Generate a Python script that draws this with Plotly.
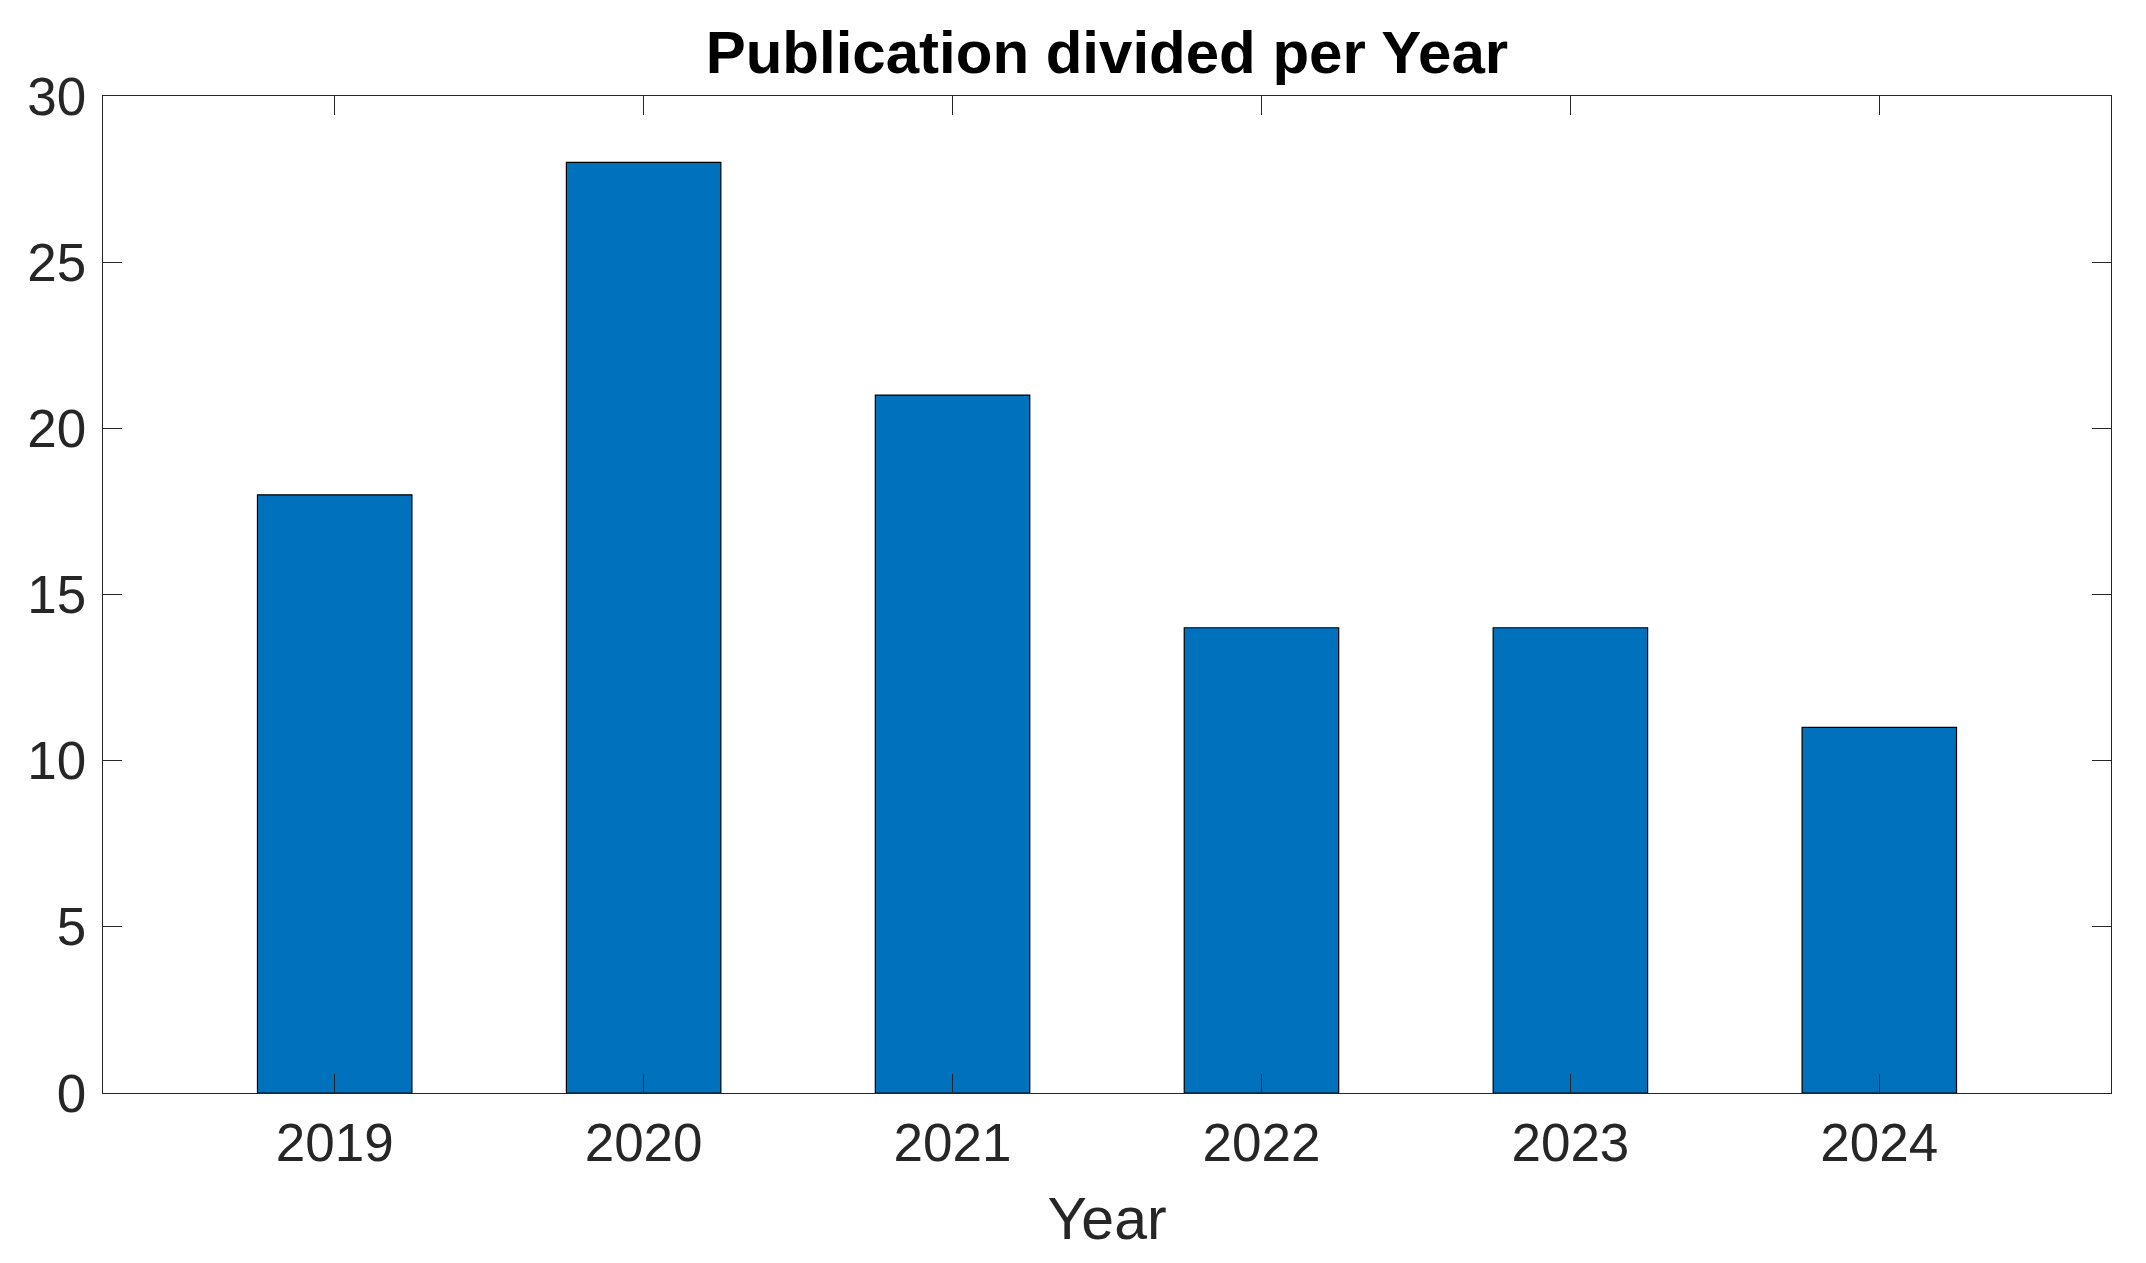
import plotly.graph_objects as go

years = ["2019", "2020", "2021", "2022", "2023", "2024"]
publications = [18, 28, 21, 14, 14, 11]
y_ticks = [0, 5, 10, 15, 20, 25, 30]

axis_color = "#262626"
font_family = "Liberation Sans, Arial, Helvetica, sans-serif"

fig = go.Figure(
    go.Bar(
        x=years,
        y=publications,
        width=0.5,
        marker=dict(color="#0072BD", line=dict(color="#000000", width=1.2)),
    )
)

fig.update_layout(
    width=2138,
    height=1255,
    margin=dict(l=95, r=35, t=88, b=170),
    paper_bgcolor="white",
    plot_bgcolor="white",
    showlegend=False,
    font=dict(family=font_family, color=axis_color),
    title=dict(
        text="<b>Publication divided per Year</b>",
        x=0.514,
        xanchor="center",
        y=0.965,
        yanchor="middle",
        font=dict(family=font_family, size=60, color="#000000"),
    ),
)

fig.update_xaxes(
    type="category",
    range=[-0.75, 5.75],
    showline=True,
    linecolor=axis_color,
    linewidth=1.3,
    mirror="ticks",
    ticks="inside",
    ticklen=19,
    tickwidth=1.3,
    tickcolor=axis_color,
    showgrid=False,
    zeroline=False,
    tickfont=dict(size=53, color=axis_color),
    ticklabelstandoff=3,
    title=dict(text="Year", font=dict(size=59, color=axis_color), standoff=26),
)

fig.update_yaxes(
    range=[0, 30],
    tickvals=y_ticks,
    showline=True,
    linecolor=axis_color,
    linewidth=1.3,
    mirror="ticks",
    ticks="inside",
    ticklen=19,
    tickwidth=1.3,
    tickcolor=axis_color,
    showgrid=False,
    zeroline=False,
    tickfont=dict(size=53, color=axis_color),
    ticklabelstandoff=5,
)

fig.write_html("out.html")
